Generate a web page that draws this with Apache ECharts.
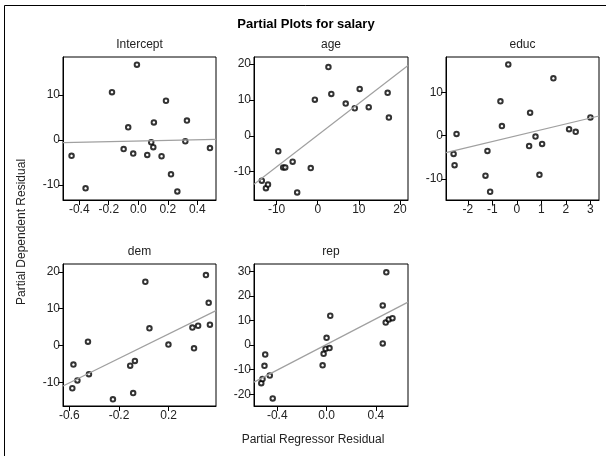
<!DOCTYPE html>
<html><head><meta charset="utf-8">
<script src="https://cdn.jsdelivr.net/npm/echarts@6/dist/echarts.min.js"></script>
<style>html,body{margin:0;padding:0;background:#fff}#c{width:606px;height:456px}</style>
</head><body><div id="c"></div>
<script>
// ---------------- data ----------------
const chartTitle = 'Partial Plots for salary';
const panelNames = ['Intercept', 'age', 'educ', 'dem', 'rep'];
const yAxisName = 'Partial Dependent Residual';
const xAxisName = 'Partial Regressor Residual';

const interceptX = [-0.452, -0.357, -0.178, -0.009, -0.068, -0.099, -0.034, 0.061, 0.088, 0.102, 0.106, 0.158, 0.188, 0.222, 0.265, 0.319, 0.330, 0.486];
const interceptY = [-3.5, -10.7, 10.6, 16.7, 2.8, -2.0, -3.0, -3.3, -0.5, -1.6, 3.9, -3.6, 8.7, -7.6, -11.4, -0.3, 4.3, -1.8];

const ageX = [-13.6, -12.6, -12.1, -9.6, -8.4, -7.9, -6.1, -5.0, -1.7, -0.7, 2.6, 3.3, 6.8, 9.0, 10.2, 12.4, 17.0, 17.3];
const ageY = [-12.5, -14.6, -13.6, -4.3, -8.8, -8.8, -7.2, -15.8, -9.0, 10.1, 19.2, 11.7, 9.0, 7.7, 13.1, 8.0, 12.0, 5.1];

const educX = [-2.58, -2.54, -2.46, -1.28, -1.20, -1.09, -0.67, -0.61, -0.35, 0.50, 0.54, 0.76, 0.92, 1.03, 1.49, 2.13, 2.40, 3.00];
const educY = [-4.2, -6.8, 0.4, -9.2, -3.5, -12.9, 7.9, 2.2, 16.4, -2.4, 5.3, -0.2, -9.0, -1.9, 13.2, 1.5, 0.9, 4.2];

const demX = [-0.576, -0.567, -0.535, -0.450, -0.442, -0.249, -0.110, -0.086, -0.072, 0.012, 0.045, 0.198, 0.391, 0.404, 0.437, 0.500, 0.522, 0.532];
const demY = [-11.5, -5.1, -9.4, 1.1, -7.7, -14.5, -5.4, -12.8, -4.1, 17.3, 4.7, 0.3, 4.9, -0.7, 5.4, 19.1, 11.6, 5.7];

const repX = [-0.530, -0.520, -0.504, -0.498, -0.461, -0.437, -0.032, -0.024, -0.008, 0.000, 0.024, 0.030, 0.456, 0.456, 0.485, 0.480, 0.505, 0.535];
const repY = [-15.5, -13.8, -8.4, -3.8, -12.4, -21.7, -8.2, -3.5, -1.5, 3.0, -1.2, 12.0, 0.7, 16.2, 29.7, 9.2, 10.5, 11.0];

// fitted line: [intercept, slope]
const interceptFit = [-0.23, 0.72];
const ageFit = [0.23, 0.885];
const educFit = [0.0, 1.35];
const demFit = [-0.12, 16.56];
const repFit = [0.3, 26.1];

// tick labels
const interceptXTicks = [-0.4, -0.2, 0.0, 0.2, 0.4];
const interceptYTicks = [-10, 0, 10];
const ageXTicks = [-10, 0, 10, 20];
const ageYTicks = [-10, 0, 10, 20];
const educXTicks = [-2, -1, 0, 1, 2, 3];
const educYTicks = [-10, 0, 10];
const demXTicks = [-0.6, -0.2, 0.2];
const demYTicks = [-10, 0, 10, 20];
const repXTicks = [-0.4, 0.0, 0.4];
const repYTicks = [-20, -10, 0, 10, 20, 30];

// ---------------- layout ----------------
const FONT = '"Liberation Sans", Arial, sans-serif';
const panels = [
  {x: interceptX, y: interceptY, fit: interceptFit, xt: interceptXTicks, yt: interceptYTicks, dec: 1,
   xr: [-0.51, 0.527], yr: [-13.3, 18.4], grid: [63, 57, 153, 143]},
  {x: ageX, y: ageY, fit: ageFit, xt: ageXTicks, yt: ageYTicks, dec: 0,
   xr: [-15.5, 21.95], yr: [-17.9, 22], grid: [254, 57, 154, 143]},
  {x: educX, y: educY, fit: educFit, xt: educXTicks, yt: educYTicks, dec: 0,
   xr: [-2.89, 3.35], yr: [-14.8, 18.1], grid: [446, 57, 153, 143]},
  {x: demX, y: demY, fit: demFit, xt: demXTicks, yt: demYTicks, dec: 1,
   xr: [-0.651, 0.581], yr: [-16.3, 22.1], grid: [63, 264, 153, 142]},
  {x: repX, y: repY, fit: repFit, xt: repXTicks, yt: repYTicks, dec: 1,
   xr: [-0.589, 0.661], yr: [-24.8, 33.1], grid: [254, 264, 154, 142]}
];

const grids = [], xAxes = [], yAxes = [], series = [], graphics = [];
const labelStyle = {fontSize: 12, color: '#222', fontFamily: FONT};

panels.forEach((p, i) => {
  grids.push({left: p.grid[0], top: p.grid[1], width: p.grid[2], height: p.grid[3],
    show: true, borderColor: '#000', borderWidth: 1, backgroundColor: 'transparent'});
  xAxes.push({type: 'value', gridIndex: i, min: p.xr[0], max: p.xr[1],
    axisLine: {show: true, onZero: false, lineStyle: {color: '#000', width: 1}},
    splitLine: {show: false},
    axisTick: {show: true, length: 5, customValues: p.xt, lineStyle: {color: '#000'}},
    axisLabel: Object.assign({customValues: p.xt, margin: 4,
      formatter: v => (p.dec ? Number(v).toFixed(p.dec) : String(Math.round(v)))}, labelStyle)});
  yAxes.push({type: 'value', gridIndex: i, min: p.yr[0], max: p.yr[1],
    axisLine: {show: true, onZero: false, lineStyle: {color: '#000', width: 1}},
    splitLine: {show: false},
    axisTick: {show: true, length: 5, customValues: p.yt, lineStyle: {color: '#000'}},
    axisLabel: Object.assign({customValues: p.yt, margin: 3,
      formatter: v => String(Math.round(v))}, labelStyle)});
  series.push({type: 'line', xAxisIndex: i, yAxisIndex: i, clip: true, silent: true,
    symbol: 'none', lineStyle: {color: '#a0a0a0', width: 1.2},
    data: [[p.xr[0], p.fit[0] + p.fit[1] * p.xr[0]], [p.xr[1], p.fit[0] + p.fit[1] * p.xr[1]]]});
  series.push({type: 'scatter', xAxisIndex: i, yAxisIndex: i, symbol: 'emptyCircle', symbolSize: 4.5,
    itemStyle: {color: '#000', borderColor: '#111', borderWidth: 0.9},
    data: p.x.map((v, k) => [v, p.y[k]])});
  graphics.push({type: 'text', x: p.grid[0] + p.grid[2] / 2, y: p.grid[1] - 12,
    style: {text: panelNames[i], textAlign: 'center', textVerticalAlign: 'middle',
      font: '12px ' + FONT, fill: '#222'}});
});

graphics.push({type: 'rect', shape: {x: 4.5, y: 5.5, width: 800, height: 800},
  style: {fill: 'none', stroke: '#000', lineWidth: 1}, silent: true});
graphics.push({type: 'text', x: 306, y: 24,
  style: {text: chartTitle, textAlign: 'center', textVerticalAlign: 'middle',
    font: 'bold 13px ' + FONT, fill: '#000'}});
graphics.push({type: 'text', x: 313, y: 440,
  style: {text: xAxisName, textAlign: 'center', textVerticalAlign: 'middle',
    font: '12px ' + FONT, fill: '#222'}});
graphics.push({type: 'text', x: 22, y: 232, rotation: Math.PI / 2,
  style: {text: yAxisName, textAlign: 'center', textVerticalAlign: 'middle',
    font: '12px ' + FONT, fill: '#222'}});

const chart = echarts.init(document.getElementById('c'), null, {renderer: 'canvas'});
chart.setOption({
  animation: false,
  backgroundColor: '#fff',
  grid: grids, xAxis: xAxes, yAxis: yAxes, series: series, graphic: graphics
});
</script></body></html>
